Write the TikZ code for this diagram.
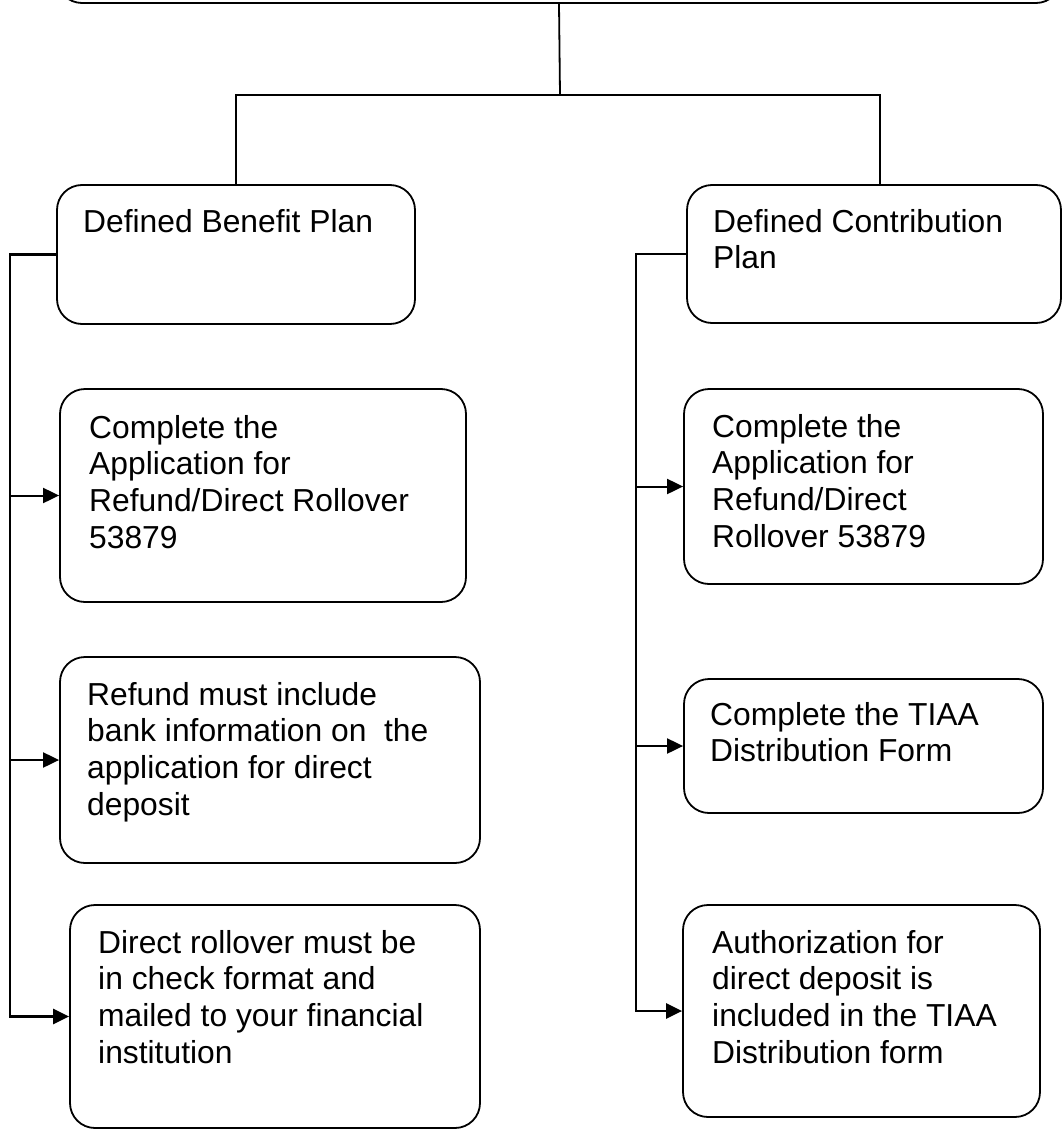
\documentclass[tikz,border=0pt]{standalone}
\usepackage{fontspec}
\setmainfont{Liberation Sans}
\usetikzlibrary{arrows.meta}
\begin{document}
\begin{tikzpicture}[x=1pt, y=-1pt,
  box/.style={draw, line width=1.8pt, rounded corners=25pt, rectangle, inner sep=0pt},
  % multi-line labels are placed by the baseline of their last line
  txt/.style={anchor=base west, inner sep=0pt, align=left,
              font=\fontsize{31.8}{36.7}\selectfont},
  link/.style={line width=1.8pt},
  trunk/.style={line width=2.4pt, -{Triangle[length=16pt, width=15pt]}},
  feed/.style={line width=2pt, -{Triangle[length=16pt, width=15pt]}}]
  \useasboundingbox (0,0) rectangle (1062,1129);
  \clip (0,0) rectangle (1062,1129);

  % header box (only its lower edge lies on the page)
  \node[box, minimum width=1004pt, minimum height=66pt] (top) at (559,-30) {};

  % the two plan boxes
  \node[box, minimum width=358pt, minimum height=139pt] (dbp) at (236,254.5) {};
  \node[box, minimum width=374pt, minimum height=138pt] (dcp) at (874,254) {};
  \node[txt] (dbptxt) at (83,232) {Defined Benefit Plan};
  \node[txt] (dcptxt) at (713,268.7) {Defined Contribution\\Plan};

  % split from the header to both plans
  \coordinate (split) at (560,95);
  \draw[link] (top.south) -- (split);
  \draw[link] (dbp.north) |- (split);
  \draw[link] ([xshift=6pt]dcp.north) |- (split);

  % defined benefit steps
  \node[box, minimum width=406pt, minimum height=213pt] (b1) at (263,495.5) {};
  \node[box, minimum width=420pt, minimum height=206pt] (b2) at (270,760) {};
  \node[box, minimum width=410pt, minimum height=223pt] (b3) at (275,1016.5) {};
  \node[txt] (b1txt) at (89,548.1) {Complete the\\Application for\\Refund/Direct Rollover\\53879};
  \node[txt] (b2txt) at (87,815.1) {Refund must include\\bank information on\ \ the\\application for direct\\deposit};
  \node[txt] (b3txt) at (98,1063.1) {Direct rollover must be\\in check format and\\mailed to your financial\\institution};

  % defined contribution steps
  \node[box, minimum width=359pt, minimum height=195pt] (r1) at (863.5,486.5) {};
  \node[box, minimum width=359pt, minimum height=134pt] (r2) at (863.5,746) {};
  \node[box, minimum width=357pt, minimum height=212pt] (r3) at (861.5,1011) {};
  \node[txt] (r1txt) at (712,547.1) {Complete the\\Application for\\Refund/Direct\\Rollover 53879};
  \node[txt] (r2txt) at (710,761.7) {Complete the TIAA\\Distribution Form};
  \node[txt] (r3txt) at (712,1063.1) {Authorization for\\direct deposit is\\included in the TIAA\\Distribution form};

  % trunks down the left and right sides
  \coordinate (ltrunk) at (10,0);
  \coordinate (rtrunk) at (636,0);
  \draw[trunk] (dbp.west) -| (b3.west -| ltrunk) -- (b3.west);
  \draw[feed] (b1.west -| ltrunk) -- (b1.west);
  \draw[feed] (b2.west -| ltrunk) -- (b2.west);
  \draw[trunk] (dcp.west) -| (r3.west -| rtrunk) -- (r3.west);
  \draw[feed] (r1.west -| rtrunk) -- (r1.west);
  \draw[feed] (r2.west -| rtrunk) -- (r2.west);
\end{tikzpicture}
\end{document}
